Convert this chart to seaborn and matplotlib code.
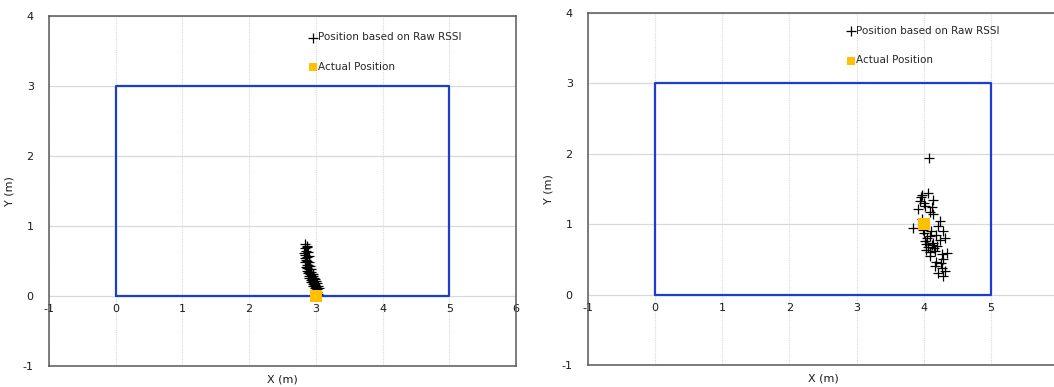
import matplotlib
matplotlib.use("Agg")
import matplotlib.pyplot as plt
import seaborn as sns
import pandas as pd

# Room outline (m)
room_x = [0, 5, 5, 0, 0]
room_y = [0, 0, 3, 3, 0]

# Test 1: estimated positions from raw RSSI and the true tag position
raw1_x = [2.84, 2.86, 2.83, 2.87, 2.85, 2.82, 2.88, 2.84, 2.86, 2.83, 2.89, 2.85,
          2.87, 2.84, 2.90, 2.86, 2.88, 2.85, 2.91, 2.87, 2.89, 2.92, 2.86, 2.90,
          2.93, 2.88, 2.91, 2.95, 2.89, 2.93, 2.96, 2.90, 2.94, 2.97, 2.92, 2.95,
          2.99, 2.93, 2.97, 3.00, 2.95, 2.98, 3.02, 2.96, 3.00, 3.03, 2.98, 3.01,
          3.04, 3.00, 3.02, 2.99, 3.03]
raw1_y = [0.75, 0.72, 0.68, 0.70, 0.64, 0.62, 0.63, 0.58, 0.56, 0.55, 0.57, 0.52,
          0.50, 0.48, 0.49, 0.45, 0.44, 0.42, 0.43, 0.40, 0.38, 0.39, 0.36, 0.35,
          0.34, 0.33, 0.31, 0.32, 0.29, 0.28, 0.29, 0.26, 0.25, 0.26, 0.23, 0.22,
          0.24, 0.20, 0.19, 0.21, 0.17, 0.16, 0.18, 0.14, 0.13, 0.15, 0.11, 0.10,
          0.12, 0.08, 0.06, 0.04, 0.03]
actual1_x = [3.0]
actual1_y = [0.0]

# Test 2
raw2_x = [4.08, 3.97, 4.07, 4.14, 3.94, 4.02, 3.92, 4.09, 4.14, 3.84, 4.24, 4.22,
          3.97, 4.00, 4.09, 4.19, 4.29, 4.02, 4.14, 4.24, 4.32, 4.04, 4.17, 4.27,
          4.34, 4.09, 4.19, 4.29, 4.17, 4.27, 4.22, 4.29, 4.32, 3.99, 4.05, 4.12,
          4.06, 4.11, 4.15, 4.20, 4.03, 4.10, 4.25, 3.96, 4.01, 4.13]
raw2_y = [1.94, 1.42, 1.45, 1.35, 1.33, 1.26, 1.21, 1.18, 1.14, 0.95, 1.04, 0.97,
          1.07, 0.88, 0.83, 0.85, 0.90, 0.76, 0.74, 0.78, 0.81, 0.64, 0.62, 0.57,
          0.59, 0.55, 0.47, 0.50, 0.40, 0.38, 0.31, 0.26, 0.33, 0.92, 0.80, 0.70,
          0.68, 0.90, 0.66, 0.69, 0.72, 0.60, 0.45, 1.38, 1.30, 1.25]
actual2_x = [4.0]
actual2_y = [1.0]

x_ticks = [-1, 0, 1, 2, 3, 4, 5, 6]
x_labels_left = ["-1", "0", "1", "2", "3", "4", "5", "6"]
x_labels_right = ["-1", "0", "1", "2", "3", "4", "5", ""]
y_ticks = [-1, 0, 1, 2, 3, 4]

sns.set_style("white")
plt.rcParams["font.family"] = ["DejaVu Sans"]
plt.rcParams["axes.unicode_minus"] = False

fig = plt.figure(figsize=(10.54, 3.87), dpi=100)
ax1 = fig.add_axes([49 / 1054, 21 / 387, 467 / 1054, 350 / 387])
ax2 = fig.add_axes([588 / 1054, 22 / 387, 470 / 1054, 352 / 387])

SPINE = "#595959"
GRID = "#d9d9d9"
BLUE = "#1a3fd0"
GOLD = "#ffc000"
TEXT = "#1a1a1a"

panels = [
    (ax1, raw1_x, raw1_y, actual1_x, actual1_y, x_labels_left, (0.545, 0.965)),
    (ax2, raw2_x, raw2_y, actual2_x, actual2_y, x_labels_right, (0.54, 0.975)),
]

for ax, rx, ry, ax_, ay_, xlabels, leg_anchor in panels:
    ax.set_xlim(-1, 6)
    ax.set_ylim(-1, 4)
    ax.set_xticks(x_ticks)
    ax.set_yticks(y_ticks)
    for x in x_ticks:
        ax.axvline(x, color=GRID, lw=0.8, ls=(0, (1, 1)), zorder=0)
    for y in y_ticks:
        ax.axhline(y, color=GRID, lw=0.9, zorder=0)

    sns.lineplot(x=room_x, y=room_y, sort=False, estimator=None, color=BLUE,
                 lw=1.6, ax=ax, zorder=2)

    raw = pd.DataFrame({"x": rx, "y": ry})
    act = pd.DataFrame({"x": ax_, "y": ay_})
    sns.scatterplot(data=raw, x="x", y="y", marker="+", s=48, color="black",
                    linewidth=0.9, ax=ax, zorder=3,
                    label="Position based on Raw RSSI")
    sns.scatterplot(data=act, x="x", y="y", marker="s", s=75, color=GOLD,
                    linewidth=0, ax=ax, zorder=4, label="Actual Position")

    leg = ax.legend(loc="upper left", bbox_to_anchor=leg_anchor, frameon=False,
                    fontsize=7.5, handletextpad=0.0, handlelength=1.0,
                    labelspacing=1.85, borderaxespad=0)
    leg.legend_handles[0].set_sizes([50])
    leg.legend_handles[1].set_sizes([30])

    # x tick labels sit along the y = 0 line
    ax.tick_params(axis="x", length=0, labelbottom=False)
    sec = ax.secondary_xaxis(0.2)
    sec.set_xticks(x_ticks)
    sec.set_xticklabels(xlabels)
    sec.tick_params(axis="x", length=0, pad=6, labelsize=8, colors=TEXT)
    sec.spines["bottom"].set_visible(False)

    ax.tick_params(axis="y", length=0, pad=11, labelsize=8, colors=TEXT)
    ax.set_xlabel("X (m)", fontsize=8, labelpad=6, color=TEXT)
    ax.set_ylabel("Y (m)", fontsize=8, labelpad=6, color=TEXT)
    for sp in ax.spines.values():
        sp.set_color(SPINE)
        sp.set_linewidth(1.1)

fig.savefig("out.png", dpi=100)
